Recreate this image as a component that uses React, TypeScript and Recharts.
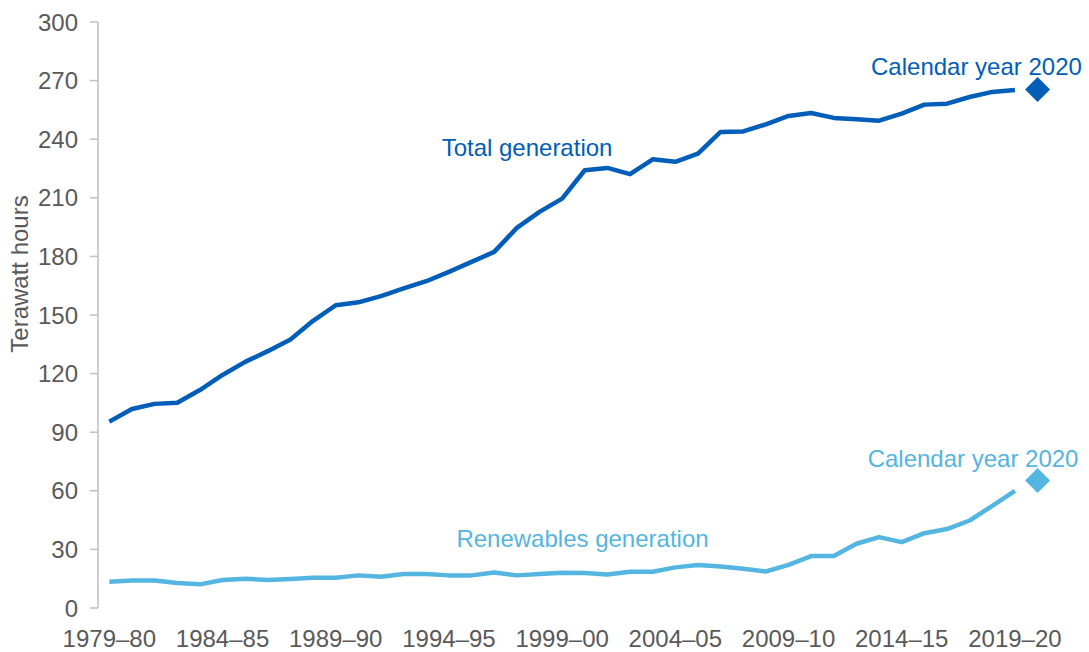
import React from 'react';
import { LineChart, Line, XAxis, YAxis, ReferenceDot } from 'recharts';

const years = [
  '1979–80', '1980–81', '1981–82', '1982–83', '1983–84', '1984–85', '1985–86', '1986–87',
  '1987–88', '1988–89', '1989–90', '1990–91', '1991–92', '1992–93', '1993–94', '1994–95',
  '1995–96', '1996–97', '1997–98', '1998–99', '1999–00', '2000–01', '2001–02', '2002–03',
  '2003–04', '2004–05', '2005–06', '2006–07', '2007–08', '2008–09', '2009–10', '2010–11',
  '2011–12', '2012–13', '2013–14', '2014–15', '2015–16', '2016–17', '2017–18', '2018–19',
  '2019–20',
];

const totalGeneration = [
  95.4, 101.9, 104.5, 105.1, 111.6, 119.3, 126.0, 131.5, 137.5, 147.0,
  155.0, 156.5, 159.7, 163.6, 167.3, 172.1, 177.2, 182.3, 194.6, 202.8,
  209.6, 224.1, 225.3, 222.1, 229.7, 228.4, 232.6, 243.7, 244.0, 247.6,
  251.9, 253.4, 250.9, 250.2, 249.5, 253.1, 257.7, 258.2, 261.6, 264.2,
  265.2,
];

const renewablesGeneration = [
  13.4, 14.1, 14.1, 12.8, 12.1, 14.3, 15.0, 14.3, 14.8, 15.5,
  15.5, 16.7, 16.0, 17.4, 17.4, 16.7, 16.7, 18.2, 16.7, 17.4,
  18.0, 17.9, 17.2, 18.6, 18.6, 20.8, 22.0, 21.3, 20.1, 18.7,
  22.1, 26.6, 26.6, 32.9, 36.3, 33.7, 38.3, 40.4, 44.8, 52.3,
  60.0,
];

const calendarYearTotal = 265.5;
const calendarYearRenewables = 65.3;

const yTicks = [0, 30, 60, 90, 120, 150, 180, 210, 240, 270, 300];
const labelTicks = [0, 5, 10, 15, 20, 25, 30, 35, 40];
const markTicks = [-0.5, 4.5, 9.5, 14.5, 19.5, 24.5, 29.5, 34.5, 39.5];

const DARK = '#005EB8';
const LIGHT = '#55B5E1';
const GRAY_TEXT = '#595959';
const AXIS = '#BFBFBF';
const FONT = '"Liberation Sans", Arial, Helvetica, sans-serif';

const data: any[] = years.map((year, i) => ({
  x: i,
  year,
  total: totalGeneration[i],
  renew: renewablesGeneration[i],
}));
data.push({
  x: years.length,
  year: 'Calendar year 2020',
  totalCY: calendarYearTotal,
  renewCY: calendarYearRenewables,
});

const annotations = [
  { text: 'Total generation', x: 18.45, y: 231.4, color: DARK },
  { text: 'Calendar year 2020', x: 38.3, y: 272.9, color: DARK },
  { text: 'Renewables generation', x: 20.9, y: 31.2, color: LIGHT },
  { text: 'Calendar year 2020', x: 38.15, y: 72.3, color: LIGHT },
];

const diamond = (color: string) => (props: any) => {
  const { cx, cy, index } = props;
  if (cx == null || cy == null || Number.isNaN(cx) || Number.isNaN(cy)) {
    return <g key={`d-${index}`} />;
  }
  const h = 12.5;
  return (
    <polygon
      key={`d-${index}`}
      points={`${cx},${cy - h} ${cx + h},${cy} ${cx},${cy + h} ${cx - h},${cy}`}
      fill={color}
    />
  );
};

const annotationContent = (text: string, color: string) => (props: any) => {
  const vb = props.viewBox || {};
  const x = (vb.x ?? 0) + (vb.width ?? 0) / 2;
  const y = (vb.y ?? 0) + (vb.height ?? 0) / 2;
  return (
    <text x={x} y={y} textAnchor="middle" fill={color} fontSize={24} fontFamily={FONT}>
      {text}
    </text>
  );
};

const yLabelContent = (props: any) => {
  const vb = props.viewBox || {};
  const x = 28;
  const y = (vb.y ?? 0) + (vb.height ?? 0) / 2 - 41;
  return (
    <text
      x={x}
      y={y}
      transform={`rotate(-90, ${x}, ${y})`}
      textAnchor="middle"
      fill={GRAY_TEXT}
      fontSize={24}
      fontFamily={FONT}
    >
      Terawatt hours
    </text>
  );
};

const domain: [number, number] = [-0.5, 42.3];

export default function App() {
  return (
    <div style={{ position: 'absolute', left: 0, top: 0, background: '#fff' }}>
      <LineChart
        width={1089}
        height={652}
        data={data}
        margin={{ top: 22, right: 22, bottom: 0, left: 0 }}
      >
        <XAxis
          xAxisId="marks"
          type="number"
          dataKey="x"
          domain={domain}
          ticks={markTicks}
          interval={0}
          tick={false}
          tickSize={7}
          height={0}
          axisLine={{ stroke: AXIS, strokeWidth: 1.5 }}
          tickLine={{ stroke: AXIS, strokeWidth: 1.5 }}
          allowDataOverflow
        />
        <XAxis
          xAxisId="labels"
          type="number"
          dataKey="x"
          domain={domain}
          ticks={labelTicks}
          interval={0}
          tickFormatter={(v: number) => years[v] ?? ''}
          tick={{ fill: GRAY_TEXT, fontSize: 24, fontFamily: FONT }}
          tickSize={0}
          tickMargin={22}
          height={44}
          axisLine={false}
          tickLine={false}
          allowDataOverflow
        />
        <YAxis
          type="number"
          domain={[0, 300]}
          ticks={yTicks}
          interval={0}
          width={98}
          tickSize={8}
          tickMargin={12}
          tick={{ fill: GRAY_TEXT, fontSize: 24, fontFamily: FONT }}
          axisLine={{ stroke: AXIS, strokeWidth: 1.5 }}
          tickLine={{ stroke: AXIS, strokeWidth: 1.5 }}
          label={{ content: yLabelContent }}
        />
        <Line
          xAxisId="labels"
          type="linear"
          dataKey="total"
          stroke={DARK}
          strokeWidth={4.5}
          strokeLinejoin="round"
          dot={false}
          activeDot={false}
          isAnimationActive={false}
        />
        <Line
          xAxisId="labels"
          type="linear"
          dataKey="renew"
          stroke={LIGHT}
          strokeWidth={4.5}
          strokeLinejoin="round"
          dot={false}
          activeDot={false}
          isAnimationActive={false}
        />
        <Line
          xAxisId="labels"
          type="linear"
          dataKey="totalCY"
          stroke="none"
          dot={diamond(DARK)}
          activeDot={false}
          isAnimationActive={false}
        />
        <Line
          xAxisId="labels"
          type="linear"
          dataKey="renewCY"
          stroke="none"
          dot={diamond(LIGHT)}
          activeDot={false}
          isAnimationActive={false}
        />
        {annotations.map((a, i) => (
          <ReferenceDot
            key={`a-${i}`}
            xAxisId="labels"
            x={a.x}
            y={a.y}
            r={1}
            fill="none"
            stroke="none"
            ifOverflow="visible"
            label={{ content: annotationContent(a.text, a.color) }}
          />
        ))}
      </LineChart>
    </div>
  );
}
